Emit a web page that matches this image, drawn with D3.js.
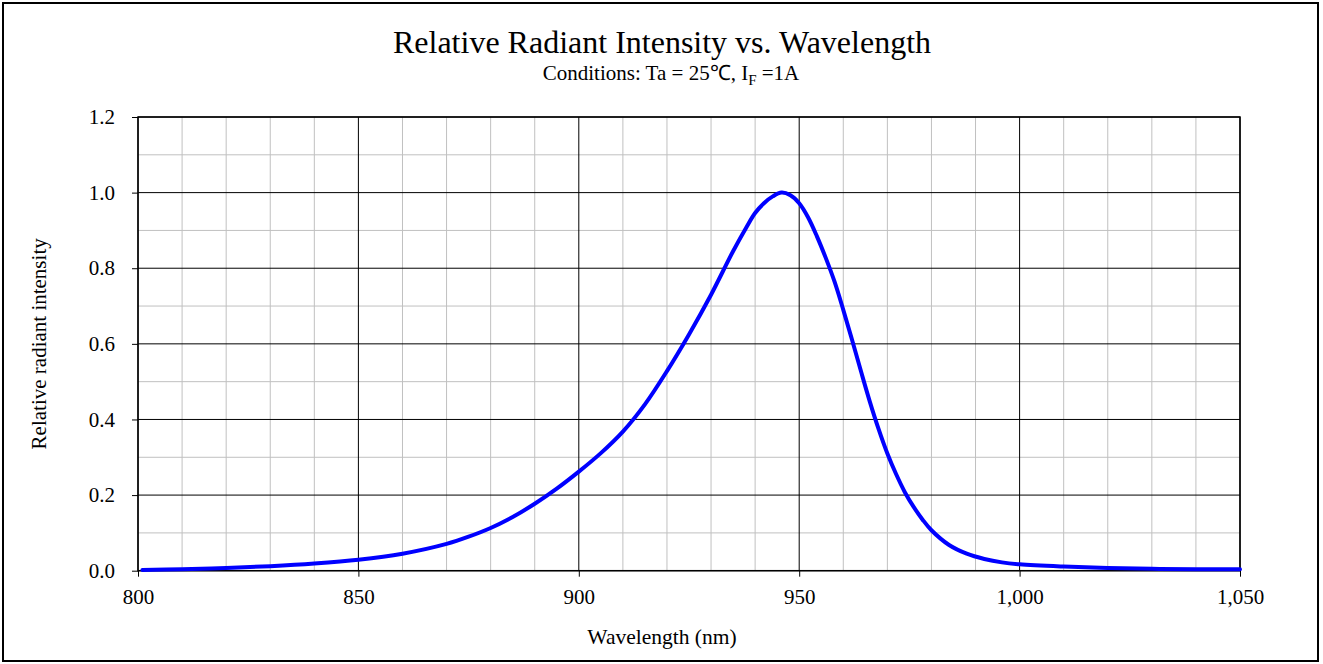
<!DOCTYPE html>
<html>
<head>
<meta charset="utf-8">
<script src="https://cdn.jsdelivr.net/npm/d3@7"></script>
<style>
  html, body { margin: 0; padding: 0; background: #fff; }
  svg { display: block; }
  text { font-family: "Liberation Serif", "Times New Roman", serif; fill: #000; }
</style>
</head>
<body>
<svg id="chart" width="1323" height="664"></svg>
<script>
// ---- data ----
const wavelengths = [801, 810, 820, 830, 840, 850, 860, 870, 875, 880, 885, 890, 895, 900, 905, 910, 915, 920, 925, 930, 935, 938, 940, 942, 944, 946, 948, 950, 952, 954, 956, 958, 960, 962, 964, 966, 968, 970, 972, 974, 976, 978, 980, 984, 988, 992, 996, 1000, 1010, 1020, 1030, 1040, 1050];
const intensity   = [0.002, 0.004, 0.007, 0.012, 0.019, 0.029, 0.045, 0.071, 0.090, 0.113, 0.142, 0.177, 0.217, 0.262, 0.311, 0.368, 0.440, 0.528, 0.625, 0.730, 0.845, 0.908, 0.946, 0.972, 0.990, 1.000, 0.993, 0.972, 0.935, 0.885, 0.828, 0.765, 0.690, 0.610, 0.528, 0.448, 0.375, 0.310, 0.255, 0.207, 0.168, 0.135, 0.107, 0.068, 0.045, 0.031, 0.022, 0.017, 0.011, 0.007, 0.005, 0.004, 0.004];
const xMajorTicks = [800, 850, 900, 950, 1000, 1050];
const yMajorTicks = [0, 0.2, 0.4, 0.6, 0.8, 1.0, 1.2];
const xMinorTicks = [810, 820, 830, 840, 860, 870, 880, 890, 910, 920, 930, 940, 960, 970, 980, 990, 1010, 1020, 1030, 1040];
const yMinorTicks = [0.1, 0.3, 0.5, 0.7, 0.9, 1.1];
const titleText = "Relative Radiant Intensity vs. Wavelength";
const xLabel = "Wavelength (nm)";
const yLabel = "Relative radiant intensity";

// ---- layout ----
const svg = d3.select("#chart");
const L = 138, R = 1240, T = 117, B = 570.7;
const x = d3.scaleLinear().domain([800, 1050]).range([L, R]);
const y = d3.scaleLinear().domain([0, 1.2]).range([B, T]);

// outer frame
svg.append("rect").attr("x", 3).attr("y", 3).attr("width", 1315).attr("height", 658)
  .attr("fill", "none").attr("stroke", "#000").attr("stroke-width", 2);

// minor grid
svg.append("g").selectAll("line").data(xMinorTicks).join("line")
  .attr("x1", d => x(d)).attr("x2", d => x(d)).attr("y1", T).attr("y2", B)
  .attr("stroke", "#c0c0c0").attr("stroke-width", 1);
svg.append("g").selectAll("line").data(yMinorTicks).join("line")
  .attr("x1", L).attr("x2", R).attr("y1", d => y(d)).attr("y2", d => y(d))
  .attr("stroke", "#c0c0c0").attr("stroke-width", 1);

// major grid
svg.append("g").selectAll("line").data(xMajorTicks).join("line")
  .attr("x1", d => x(d)).attr("x2", d => x(d)).attr("y1", T).attr("y2", B)
  .attr("stroke", "#000").attr("stroke-width", 1);
svg.append("g").selectAll("line").data(yMajorTicks).join("line")
  .attr("x1", L).attr("x2", R).attr("y1", d => y(d)).attr("y2", d => y(d))
  .attr("stroke", "#000").attr("stroke-width", 1);

// plot border
svg.append("rect").attr("x", L).attr("y", T).attr("width", R - L).attr("height", B - T)
  .attr("fill", "none").attr("stroke", "#000").attr("stroke-width", 1.5);

// axes
const xAxis = d3.axisBottom(x).tickValues(xMajorTicks).tickFormat(d3.format(",")).tickSize(6).tickPadding(12);
const gx = svg.append("g").attr("transform", `translate(0,${B})`).call(xAxis);
gx.select(".domain").remove();
gx.selectAll("line").attr("stroke", "#000");
gx.selectAll("text").attr("font-size", 21).attr("font-family", "Liberation Serif");

const yAxis = d3.axisLeft(y).tickValues(yMajorTicks).tickFormat(d3.format(".1f")).tickSize(6).tickPadding(17);
const gy = svg.append("g").attr("transform", `translate(${L},0)`).call(yAxis);
gy.select(".domain").remove();
gy.selectAll("line").attr("stroke", "#000");
gy.selectAll("text").attr("font-size", 21).attr("font-family", "Liberation Serif");

// curve
const pts = wavelengths.map((w, i) => [w, intensity[i]]);
const line = d3.line().x(d => x(d[0])).y(d => y(d[1])).curve(d3.curveCatmullRom.alpha(0.5));
svg.append("path").datum(pts).attr("d", line)
  .attr("fill", "none").attr("stroke", "#0000ff").attr("stroke-width", 4)
  .attr("stroke-linejoin", "round").attr("stroke-linecap", "round");

// titles
svg.append("text").attr("x", 662).attr("y", 53).attr("text-anchor", "middle")
  .attr("font-size", 32).text(titleText);
const sub = svg.append("text").attr("x", 671).attr("y", 80).attr("text-anchor", "middle").attr("font-size", 21);
sub.append("tspan").text("Conditions: Ta = 25\u2103, I");
sub.append("tspan").attr("font-size", 15).attr("dy", 5).text("F");
sub.append("tspan").attr("dy", -5).text(" =1A");

svg.append("text").attr("x", 662).attr("y", 644).attr("text-anchor", "middle")
  .attr("font-size", 21.5).text(xLabel);
svg.append("text").attr("transform", `translate(46,${(T + B) / 2}) rotate(-90)`)
  .attr("text-anchor", "middle").attr("font-size", 21).text(yLabel);
</script>
</body>
</html>
